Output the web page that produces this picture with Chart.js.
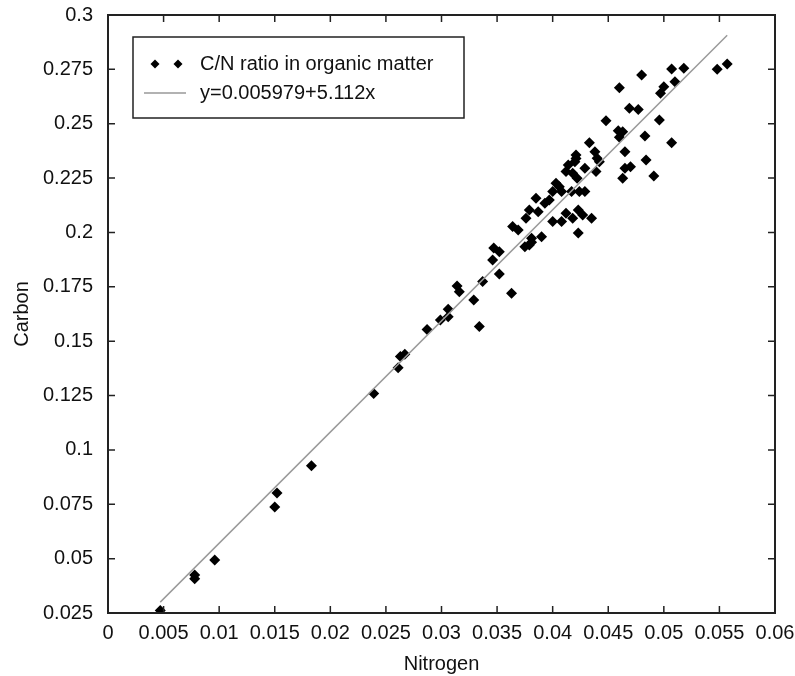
<!DOCTYPE html>
<html><head><meta charset="utf-8">
<script src="https://cdn.jsdelivr.net/npm/chart.js@4"></script>
<style>html,body{margin:0;padding:0;background:#fff}#wrap{width:795px;height:676px;position:relative}</style>
</head><body><div id="wrap"><canvas id="c" width="795" height="676"></canvas></div>
<script>
const nitrogen = [0.0047,0.0078,0.0078,0.0096,0.0150,0.0152,0.0183,0.0239,0.0261,0.0263,0.0267,0.0287,0.0299,0.0306,0.0306,0.0314,0.0316,0.0329,0.0334,0.0337,0.0346,0.0347,0.0352,0.0352,0.0363,0.0364,0.0369,0.0375,0.0379,0.0381,0.0381,0.0390,0.0376,0.0379,0.0387,0.0385,0.0393,0.0397,0.0400,0.0403,0.0400,0.0408,0.0412,0.0418,0.0423,0.0427,0.0435,0.0423,0.0408,0.0417,0.0424,0.0429,0.0412,0.0414,0.0418,0.0421,0.0421,0.0420,0.0422,0.0429,0.0439,0.0440,0.0442,0.0438,0.0433,0.0448,0.0460,0.0469,0.0477,0.0459,0.0463,0.0460,0.0465,0.0465,0.0470,0.0463,0.0480,0.0483,0.0484,0.0491,0.0496,0.0497,0.0500,0.0507,0.0507,0.0510,0.0518,0.0548,0.0557,0.0406];
const carbon = [0.0262,0.0425,0.0407,0.0494,0.0738,0.0802,0.0927,0.1259,0.1378,0.1430,0.1440,0.1554,0.1597,0.1612,0.1647,0.1754,0.1727,0.1689,0.1567,0.1774,0.1873,0.1929,0.1911,0.1809,0.1720,0.2027,0.2011,0.1934,0.1942,0.1955,0.1973,0.1980,0.2065,0.2103,0.2095,0.2157,0.2134,0.2149,0.2188,0.2226,0.2050,0.2050,0.2088,0.2065,0.2103,0.2080,0.2065,0.1998,0.2188,0.2188,0.2188,0.2188,0.2280,0.2310,0.2272,0.2340,0.2356,0.2325,0.2249,0.2295,0.2280,0.2341,0.2325,0.2371,0.2413,0.2514,0.2666,0.2571,0.2566,0.2468,0.2463,0.2438,0.2371,0.2295,0.2302,0.2249,0.2724,0.2444,0.2333,0.2260,0.2517,0.2640,0.2670,0.2752,0.2413,0.2693,0.2755,0.2750,0.2775,0.2210];
const fitNitrogen = [0.0047, 0.0557];
const fitCarbon = [0.0300, 0.2907];
const seriesLabels = ['C/N ratio in organic matter', 'y=0.005979+5.112x'];
const xTicks = [0,0.005,0.01,0.015,0.02,0.025,0.03,0.035,0.04,0.045,0.05,0.055,0.06];
const xTickLabels = ['0','0.005','0.01','0.015','0.02','0.025','0.03','0.035','0.04','0.045','0.05','0.055','0.06'];
const yTicks = [0.025,0.05,0.075,0.1,0.125,0.15,0.175,0.2,0.225,0.25,0.275,0.3];
const yTickLabels = ['0.025','0.05','0.075','0.1','0.125','0.15','0.175','0.2','0.225','0.25','0.275','0.3'];
const xTitle = 'Nitrogen';
const yTitle = 'Carbon';

const FONT = '"Liberation Sans", Arial, sans-serif';
const INK = '#111';

const framePlugin = {
  id: 'frame',
  afterDatasetsDraw(chart) {
    const ctx = chart.ctx, a = chart.chartArea;
    const xs = chart.scales.x, ys = chart.scales.y;
    const tl = 7;
    ctx.save();
    ctx.strokeStyle = '#222';
    ctx.lineWidth = 1.5;
    ctx.beginPath();
    xs.ticks.forEach(t => {
      const p = xs.getPixelForValue(t.value);
      ctx.moveTo(p, a.bottom); ctx.lineTo(p, a.bottom - tl);
      ctx.moveTo(p, a.top); ctx.lineTo(p, a.top + tl);
    });
    ys.ticks.forEach(t => {
      const p = ys.getPixelForValue(t.value);
      ctx.moveTo(a.left, p); ctx.lineTo(a.left + tl, p);
      ctx.moveTo(a.right, p); ctx.lineTo(a.right - tl, p);
    });
    ctx.stroke();
    ctx.lineWidth = 2;
    ctx.strokeRect(a.left, a.top, a.right - a.left, a.bottom - a.top);
    ctx.restore();
  },
  afterDraw(chart) {
    const ctx = chart.ctx;
    const ds = chart.data.datasets;
    const bx = 133, by = 37, bw = 331, bh = 81;
    ctx.save();
    ctx.fillStyle = '#fff';
    ctx.fillRect(bx, by, bw, bh);
    ctx.strokeStyle = '#222';
    ctx.lineWidth = 1.5;
    ctx.strokeRect(bx, by, bw, bh);
    ctx.font = '20px ' + FONT;
    ctx.fillStyle = INK;
    ctx.textBaseline = 'middle';
    ctx.textAlign = 'left';
    const y1 = 64, y2 = 93;
    [155, 178].forEach(cx => {
      const r = 4.5;
      ctx.beginPath();
      ctx.moveTo(cx, y1 - r); ctx.lineTo(cx + r, y1); ctx.lineTo(cx, y1 + r); ctx.lineTo(cx - r, y1); ctx.closePath();
      ctx.fillStyle = '#000'; ctx.fill();
    });
    ctx.fillStyle = INK;
    ctx.fillText(ds[1].label, 200, y1);
    ctx.strokeStyle = '#999';
    ctx.lineWidth = 1.5;
    ctx.beginPath(); ctx.moveTo(144, y2); ctx.lineTo(186, y2); ctx.stroke();
    ctx.fillText(ds[0].label, 200, y2);
    ctx.restore();
  }
};

new Chart(document.getElementById('c'), {
  type: 'scatter',
  data: {
    datasets: [
      {
        label: seriesLabels[1],
        type: 'line',
        data: fitNitrogen.map((v, i) => ({x: v, y: fitCarbon[i]})),
        borderColor: '#9a9a9a',
        borderWidth: 1.5,
        pointRadius: 0,
        fill: false,
        tension: 0
      },
      {
        label: seriesLabels[0],
        data: nitrogen.map((v, i) => ({x: v, y: carbon[i]})),
        pointStyle: 'rectRot',
        pointRadius: 5.5,
        pointBackgroundColor: '#000',
        pointBorderWidth: 0,
        backgroundColor: '#000',
        borderColor: '#000'
      }
    ]
  },
  options: {
    responsive: false,
    devicePixelRatio: 1,
    animation: false,
    layout: {padding: {top: 15, right: 20, left: 0, bottom: 0}},
    plugins: {legend: {display: false}, tooltip: {enabled: false}},
    scales: {
      x: {
        type: 'linear', min: 0, max: 0.06,
        afterBuildTicks: s => { s.ticks = xTicks.map(v => ({value: v})); },
        afterFit: s => { s.height = 63; s.paddingLeft = 0; s.paddingRight = 0; },
        grid: {display: false, drawTicks: false},
        border: {display: false},
        ticks: {callback: (v, i) => xTickLabels[i], font: {size: 20, family: FONT}, color: INK, maxRotation: 0, autoSkip: false, padding: 8},
        title: {display: true, text: xTitle, font: {size: 20, family: FONT}, color: INK, padding: {top: 0, bottom: 0}}
      },
      y: {
        type: 'linear', min: 0.025, max: 0.3,
        afterBuildTicks: s => { s.ticks = yTicks.map(v => ({value: v})); },
        afterFit: s => { s.width = 108; s.paddingTop = 0; s.paddingBottom = 0; },
        grid: {display: false, drawTicks: false},
        border: {display: false},
        ticks: {callback: (v, i) => yTickLabels[i], font: {size: 20, family: FONT}, color: INK, autoSkip: false, padding: 15},
        title: {display: true, text: yTitle, font: {size: 20, family: FONT}, color: INK, padding: {top: 10, bottom: 0}}
      }
    }
  },
  plugins: [framePlugin]
});
</script></body></html>
